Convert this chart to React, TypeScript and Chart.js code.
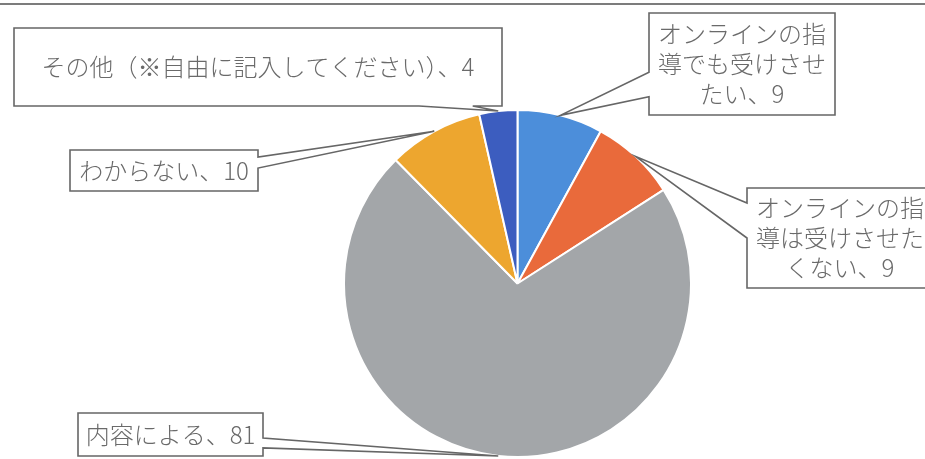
import React, { useEffect, useRef } from "react";
import { Chart, registerables } from "chart.js";

Chart.register(...registerables);

const categories = [
  "オンラインの指導でも受けさせたい",
  "オンラインの指導は受けさせたくない",
  "内容による",
  "わからない",
  "その他（※自由に記入してください）",
];
const values = [9, 9, 81, 10, 4];
const colors = ["#4C8EDA", "#E96A3B", "#A3A6A9", "#EDA62F", "#3C5DBF"];
const separator = "、";

// callout layout (positions only)
const calloutLayout = [
  { x: 649, y: 13, w: 186, h: 102, side: "left", base: [0.58, 0.82], wrap: 7 },
  { x: 747, y: 188, w: 186, h: 100, side: "left", base: [0.15, 0.5], wrap: 7 },
  { x: 78, y: 413, w: 185, h: 43, side: "right", base: [0.58, 0.81], wrap: 0 },
  { x: 70, y: 150, w: 188, h: 41, side: "right", base: [0.17, 0.44], wrap: 0 },
  { x: 14, y: 28, w: 488, h: 78, side: "bottom", base: [0.83, 0.94], wrap: 0 },
];

const FONT = '"Noto Sans CJK JP", "Noto Sans", sans-serif';

function wrapText(s: string, n: number): string[] {
  if (!n) return [s];
  const chars = Array.from(s);
  const out: string[] = [];
  for (let i = 0; i < chars.length; i += n) out.push(chars.slice(i, i + n).join(""));
  return out;
}

const calloutPlugin = {
  id: "callouts",
  afterDraw(chart: any) {
    const ctx = chart.ctx as CanvasRenderingContext2D;
    const meta = chart.getDatasetMeta(0);
    ctx.save();
    meta.data.forEach((arc: any, i: number) => {
      const L = calloutLayout[i];
      if (!L) return;
      const p = arc.getProps(["x", "y", "startAngle", "endAngle", "outerRadius"], true);
      const mid = (p.startAngle + p.endAngle) / 2;
      const tx = p.x + Math.cos(mid) * p.outerRadius;
      const ty = p.y + Math.sin(mid) * p.outerRadius;
      const { x, y, w, h, side, base } = L;
      ctx.beginPath();
      if (side === "left") {
        ctx.moveTo(x, y);
        ctx.lineTo(x + w, y);
        ctx.lineTo(x + w, y + h);
        ctx.lineTo(x, y + h);
        ctx.lineTo(x, y + h * base[1]);
        ctx.lineTo(tx, ty);
        ctx.lineTo(x, y + h * base[0]);
        ctx.closePath();
      } else if (side === "right") {
        ctx.moveTo(x, y);
        ctx.lineTo(x + w, y);
        ctx.lineTo(x + w, y + h * base[0]);
        ctx.lineTo(tx, ty);
        ctx.lineTo(x + w, y + h * base[1]);
        ctx.lineTo(x + w, y + h);
        ctx.lineTo(x, y + h);
        ctx.closePath();
      } else {
        ctx.moveTo(x, y);
        ctx.lineTo(x + w, y);
        ctx.lineTo(x + w, y + h);
        ctx.lineTo(x + w * base[1], y + h);
        ctx.lineTo(tx, ty);
        ctx.lineTo(x + w * base[0], y + h);
        ctx.lineTo(x, y + h);
        ctx.closePath();
      }
      ctx.fillStyle = "#ffffff";
      ctx.fill();
      ctx.lineWidth = 1.6;
      ctx.strokeStyle = "#666666";
      ctx.lineJoin = "miter";
      ctx.stroke();

      const text = chart.data.labels[i] + separator + chart.data.datasets[0].data[i];
      const lines = wrapText(text, L.wrap);
      ctx.fillStyle = "#6a6a6a";
      ctx.font = `300 24px ${FONT}`;
      ctx.textAlign = "center";
      ctx.textBaseline = "middle";
      const lh = 30;
      const cy = y + h / 2;
      lines.forEach((ln, k) => {
        ctx.fillText(ln, x + w / 2, cy + (k - (lines.length - 1) / 2) * lh);
      });
    });
    ctx.restore();
  },
};

export default function App() {
  const ref = useRef<HTMLCanvasElement | null>(null);
  useEffect(() => {
    if (!ref.current) return;
    const chart = new Chart(ref.current, {
      type: "pie",
      data: {
        labels: categories,
        datasets: [
          {
            data: values,
            backgroundColor: colors,
            borderColor: "#ffffff",
            borderWidth: 2,
          },
        ],
      },
      options: {
        animation: false,
        responsive: true,
        maintainAspectRatio: false,
        layout: { padding: { left: 343, right: 233, top: 109, bottom: 1 } },
        plugins: {
          legend: { display: false },
          tooltip: { enabled: false },
        },
      },
      plugins: [calloutPlugin],
    });
    return () => chart.destroy();
  }, []);
  return (
    <div
      style={{
        position: "fixed",
        left: 0,
        top: 0,
        width: 925,
        height: 459,
        background: "#ffffff",
        overflow: "hidden",
      }}
    >
      <div
        style={{
          position: "absolute",
          left: 0,
          top: 3,
          width: 925,
          height: 0,
          borderTop: "2px solid #7c7c7c",
        }}
      />
      <canvas ref={ref} style={{ position: "absolute", left: 0, top: 0, width: 925, height: 459 }} />
    </div>
  );
}
